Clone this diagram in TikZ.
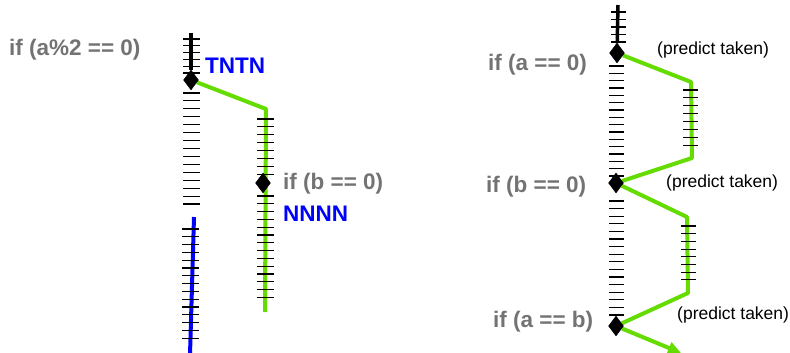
\documentclass[tikz,border=0pt]{standalone}
\usepackage{fontspec}
\setmainfont{Liberation Sans}
\usetikzlibrary{arrows.meta, shapes.geometric, backgrounds}
\definecolor{condgray}{RGB}{115,115,115}
\definecolor{takengreen}{RGB}{100,220,0}

\begin{document}
\begin{tikzpicture}[
    x=1pt, y=-1pt,
    cond/.style={font=\fontsize{22.5}{26}\selectfont\bfseries, text=condgray,
                 anchor=west, inner sep=0pt},
    hist/.style={cond, text=blue},
    pred/.style={font=\fontsize{17.5}{21}\selectfont, anchor=west, inner sep=0pt},
    branch/.style={draw=black, fill=black, diamond, inner sep=0pt,
                   minimum width=15pt, minimum height=20pt},
    tick/.style={black, line width=1.1pt},
    fall/.style={black, line width=3.5pt},
    taken/.style={takengreen, line width=4pt, line join=round},
    other/.style={blue, line width=4pt}
]
    \useasboundingbox (0,0) rectangle (790,353);

    % left: a%2 then b
    \node[branch] (L1) at (191,80) {};
    \node[branch] (L2) at (263,183) {};
    \node[cond] (condL1) at (9,50) {if (a\%2 == 0)};
    \node[hist] (histL1) at (205,66) {TNTN};
    \node[cond] (condL2) at (283,184) {if (b == 0)};
    \node[hist] (histL2) at (283,214) {NNNN};

    \coordinate (topL) at (191,33);
    \coordinate (gL1) at (266,109);
    \coordinate (gL2) at (265,312);
    \coordinate (blueTop) at (194,217);
    \coordinate (blueBot) at (190,355);

    \foreach \i in {0,...,5}
        \draw[tick] (183,39+6.8*\i) -- (200,39+6.8*\i);
    \foreach \i in {0,...,14}
        \draw[tick] (183,93+7.93*\i) -- (200,93+7.93*\i);
    \foreach \i in {0,...,7}
        \draw[tick] (257,119+7.9*\i) -- (274,119+7.9*\i);
    \foreach \i in {0,...,13}
        \draw[tick] (257,196+7.8*\i) -- (274,196+7.8*\i);
    \foreach \i in {0,...,14}
        \draw[tick] (182,229+7.8*\i) -- (199,229+7.8*\i);

    % right: a, b, a==b
    \node[branch] (R1) at (617,53) {};
    \node[branch] (R2) at (616,183) {};
    \node[branch] (R3) at (616,326) {};
    \node[cond] (condR1) at (488,65) {if (a == 0)};
    \node[cond] (condR2) at (486,187) {if (b == 0)};
    \node[cond] (condR3) at (493,322) {if (a == b)};
    \node[pred] (predR1) at (657,50) {(predict taken)};
    \node[pred] (predR2) at (666,183) {(predict taken)};
    \node[pred] (predR3) at (677,315) {(predict taken)};

    \coordinate (topR) at (618,5);
    \coordinate (gR1) at (691,82);
    \coordinate (gR2) at (692,158);
    \coordinate (gR3) at (687,217);
    \coordinate (gR4) at (688,293);
    \coordinate (gR5) at (681,353);

    \foreach \i in {0,...,4}
        \draw[tick] (611,12+7.5*\i) -- (626,12+7.5*\i);
    \foreach \i in {0,...,15}
        \draw[tick] (609,66+7.33*\i) -- (624,66+7.33*\i);
    \foreach \i in {0,...,15}
        \draw[tick] (609,201+7.6*\i) -- (624,201+7.6*\i);
    \foreach \i in {0,...,7}
        \draw[tick] (683,90+7.9*\i) -- (698,90+7.9*\i);
    \foreach \i in {0,...,7}
        \draw[tick] (681,226+7.7*\i) -- (696,226+7.7*\i);

    \begin{pgfonlayer}{background}
        \draw[fall] (topL) -- (L1);
        \draw[taken] (L1) -- (gL1) -- (gL2);
        \draw[other] (blueTop) -- (blueBot);
        \draw[fall] (topR) -- (R1);
        \draw[taken] (R1) -- (gR1) -- (gR2) -- (R2);
        \draw[taken] (R2) -- (gR3) -- (gR4) -- (R3);
        \draw[taken, -{Triangle[length=13pt, width=12pt]}] (R3) -- (gR5);
    \end{pgfonlayer}
\end{tikzpicture}
\end{document}
